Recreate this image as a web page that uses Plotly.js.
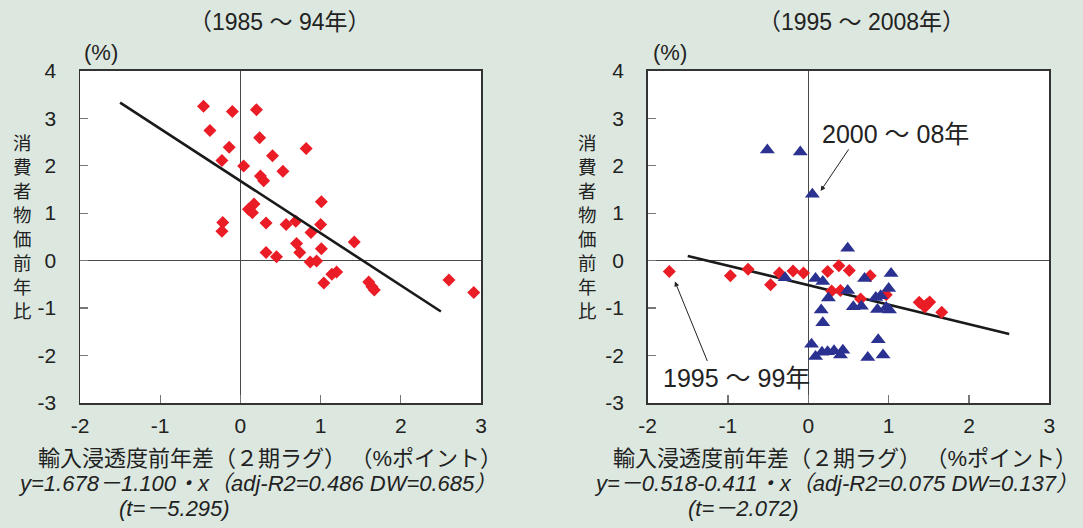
<!DOCTYPE html>
<html>
<head>
<meta charset="utf-8">
<script src="https://cdn.plot.ly/plotly-3.0.1.min.js"></script>
<style>
html,body{margin:0;padding:0;background:#dce8df;}
#chart{width:1083px;height:528px;}
</style>
</head>
<body>
<div id="chart"></div>
<script>
// ---- Data ----
// Left panel: 1985-94
var x8594 = [-0.46, -0.10, 0.20, -0.38, 0.24, -0.14, 0.82, 0.40, -0.23, 0.04, 0.53, 0.25, 0.29, 1.01, 0.17, 0.10, 0.15, -0.22, -0.23, 0.32, 0.57, 0.69, 1.00, 0.88, 1.42, 0.70, 0.74, 1.01, 0.32, 0.45, 0.87, 0.95, 1.14, 1.20, 1.04, 1.60, 1.67, 1.64, 2.60, 2.91];
var y8594 = [3.25, 3.14, 3.18, 2.74, 2.59, 2.39, 2.36, 2.21, 2.11, 1.99, 1.88, 1.78, 1.68, 1.24, 1.19, 1.08, 1.01, 0.80, 0.62, 0.79, 0.76, 0.83, 0.76, 0.59, 0.39, 0.36, 0.17, 0.25, 0.17, 0.08, -0.03, -0.01, -0.29, -0.24, -0.47, -0.45, -0.62, -0.55, -0.41, -0.67];
var fitLeftX = [-1.5, 2.5];
var fitLeftY = [3.328, -1.072];

// Right panel: 1995-99 (diamonds) and 2000-08 (triangles)
var x9599 = [-1.73, -0.97, -0.75, -0.47, -0.36, -0.19, -0.06, 0.24, 0.38, 0.51, 0.29, 0.40, 0.65, 0.77, 0.97, 1.38, 1.45, 1.51, 1.47, 1.66];
var y9599 = [-0.23, -0.32, -0.18, -0.51, -0.26, -0.22, -0.26, -0.23, -0.11, -0.21, -0.64, -0.63, -0.81, -0.32, -0.72, -0.88, -0.98, -0.87, -0.93, -1.09];
var x0008 = [-0.51, -0.10, 0.05, 0.49, -0.29, 0.09, 0.18, 0.70, 1.03, 0.49, 1.00, 0.25, 0.84, 0.90, 0.56, 0.66, 0.86, 0.97, 1.01, 0.16, 0.18, 0.87, 0.04, 0.09, 0.17, 0.24, 0.32, 0.40, 0.43, 0.74, 0.93];
var y0008 = [2.33, 2.29, 1.40, 0.26, -0.36, -0.38, -0.44, -0.38, -0.27, -0.63, -0.59, -0.79, -0.78, -0.74, -0.97, -0.96, -1.03, -0.99, -1.04, -1.04, -1.31, -1.67, -1.76, -2.02, -1.93, -1.92, -1.90, -1.99, -1.89, -2.04, -1.99];
var fitRightX = [-1.5, 2.5];
var fitRightY = [0.0985, -1.5455];

var xTicks = [-2, -1, 0, 1, 2, 3];
var yTicks = [-3, -2, -1, 0, 1, 2, 3, 4];

var titleLeft = '（1985 ～ 94年）';
var titleRight = '（1995 ～ 2008年）';
var yTitle = '消費者物価前年比';
var xTitle = '輸入浸透度前年差（２期ラグ）\u2009（%ポイント）';
var eqLeft1 = 'y=1.678－1.100・x（adj-R2=0.486 DW=0.685）';
var eqLeft2 = '(t=－5.295)';
var eqRight1 = 'y=－0.518-0.411・x（adj-R2=0.075 DW=0.137）';
var eqRight2 = '(t=－2.072)';
var label9599 = '1995 ～ 99年';
var label0008 = '2000 ～ 08年';

// ---- Styling ----
var W = 1083, H = 528;
var FONT = 'Liberation Sans, Arial, Noto Sans CJK JP, sans-serif';
var RED = '#ea1c25';
var BLUE = '#2b3190';
function px(v){ return v / W; }
function py(v){ return 1 - v / H; }

var traces = [
  {x: x8594, y: y8594, type: 'scatter', mode: 'markers', xaxis: 'x', yaxis: 'y',
   marker: {symbol: 'diamond', size: 10, color: RED}, showlegend: false, hoverinfo: 'x+y'},
  {x: fitLeftX, y: fitLeftY, type: 'scatter', mode: 'lines', xaxis: 'x', yaxis: 'y',
   line: {color: '#1a1a1a', width: 2.6}, showlegend: false},
  {x: fitRightX, y: fitRightY, type: 'scatter', mode: 'lines', xaxis: 'x2', yaxis: 'y2',
   line: {color: '#1a1a1a', width: 2.6}, showlegend: false},
  {x: x9599, y: y9599, type: 'scatter', mode: 'markers', xaxis: 'x2', yaxis: 'y2',
   marker: {symbol: 'diamond', size: 10, color: RED}, showlegend: false},
  {x: x0008, y: y0008, type: 'scatter', mode: 'markers', xaxis: 'x2', yaxis: 'y2',
   marker: {symbol: 'triangle-up', size: 13, color: BLUE}, showlegend: false}
];

function xax(domain){
  return {domain: domain, range: [-2, 3], tickvals: xTicks, ticktext: xTicks.map(String),
    showgrid: false, zeroline: true, zerolinecolor: '#4a4a4a', zerolinewidth: 1.3,
    showline: true, mirror: true, linecolor: '#333', linewidth: 1.5,
    ticks: 'inside', ticklen: 8, tickcolor: '#777', tickwidth: 1.2,
    tickfont: {family: FONT, size: 21, color: '#222'}, ticklabelstandoff: 3, fixedrange: true};
}
function yax(anchor){
  return {domain: [py(403), py(70.7)], range: [-3, 4], tickvals: yTicks, ticktext: yTicks.map(String),
    anchor: anchor,
    showgrid: false, zeroline: true, zerolinecolor: '#4a4a4a', zerolinewidth: 1.3,
    showline: true, mirror: true, linecolor: '#333', linewidth: 1.5,
    ticks: 'inside', ticklen: 8, tickcolor: '#777', tickwidth: 1.2,
    tickfont: {family: FONT, size: 21, color: '#222'}, ticklabelstandoff: 18, fixedrange: true};
}

function ann(text, x, y, size, extra){
  var a = {text: text, xref: 'paper', yref: 'paper', x: px(x), y: py(y),
    xanchor: 'center', yanchor: 'middle', showarrow: false,
    font: {family: FONT, size: size, color: '#222'}};
  for (var k in extra) a[k] = extra[k];
  return a;
}

var annotations = [
  ann(titleLeft, 280, 22, 23),
  ann(titleRight, 861, 22, 23),
  ann('(%)', 101, 52, 22),
  ann('(%)', 670, 52, 22),
  ann(yTitle.split('').join('<br>'), 22, 227, 18.5),
  ann(yTitle.split('').join('<br>'), 587, 227, 18.5),
  ann(xTitle, 270, 458, 22),
  ann(xTitle, 845, 458, 22),
  ann('<i>' + eqLeft1 + '</i>', 257, 483, 22),
  ann('<i>' + eqLeft2 + '</i>', 174, 508, 22),
  ann('<i>' + eqRight1 + '</i>', 836, 483, 22),
  ann('<i>' + eqRight2 + '</i>', 743, 508, 22),
  ann(label0008, 895, 134, 25),
  ann(label9599, 736, 378, 25),
  {text: '', xref: 'x2', yref: 'y2', x: 0.153, y: 1.467, ax: 29, ay: -43,
   showarrow: true, arrowhead: 2, arrowsize: 1, arrowwidth: 1, arrowcolor: '#222'},
  {text: '', xref: 'x2', yref: 'y2', x: -1.66, y: -0.44, ax: 33, ay: 81,
   showarrow: true, arrowhead: 2, arrowsize: 1, arrowwidth: 1, arrowcolor: '#222'}
];

var layout = {
  width: W, height: H,
  margin: {l: 0, r: 0, t: 0, b: 0},
  paper_bgcolor: '#dce8df',
  plot_bgcolor: '#ffffff',
  showlegend: false,
  xaxis: Object.assign(xax([px(80), px(481)]), {anchor: 'y'}),
  yaxis: yax('x'),
  xaxis2: Object.assign(xax([px(647.6), px(1049.4)]), {anchor: 'y2'}),
  yaxis2: yax('x2'),
  annotations: annotations
};

Plotly.newPlot('chart', traces, layout, {displayModeBar: false, staticPlot: true});
</script>
</body>
</html>
